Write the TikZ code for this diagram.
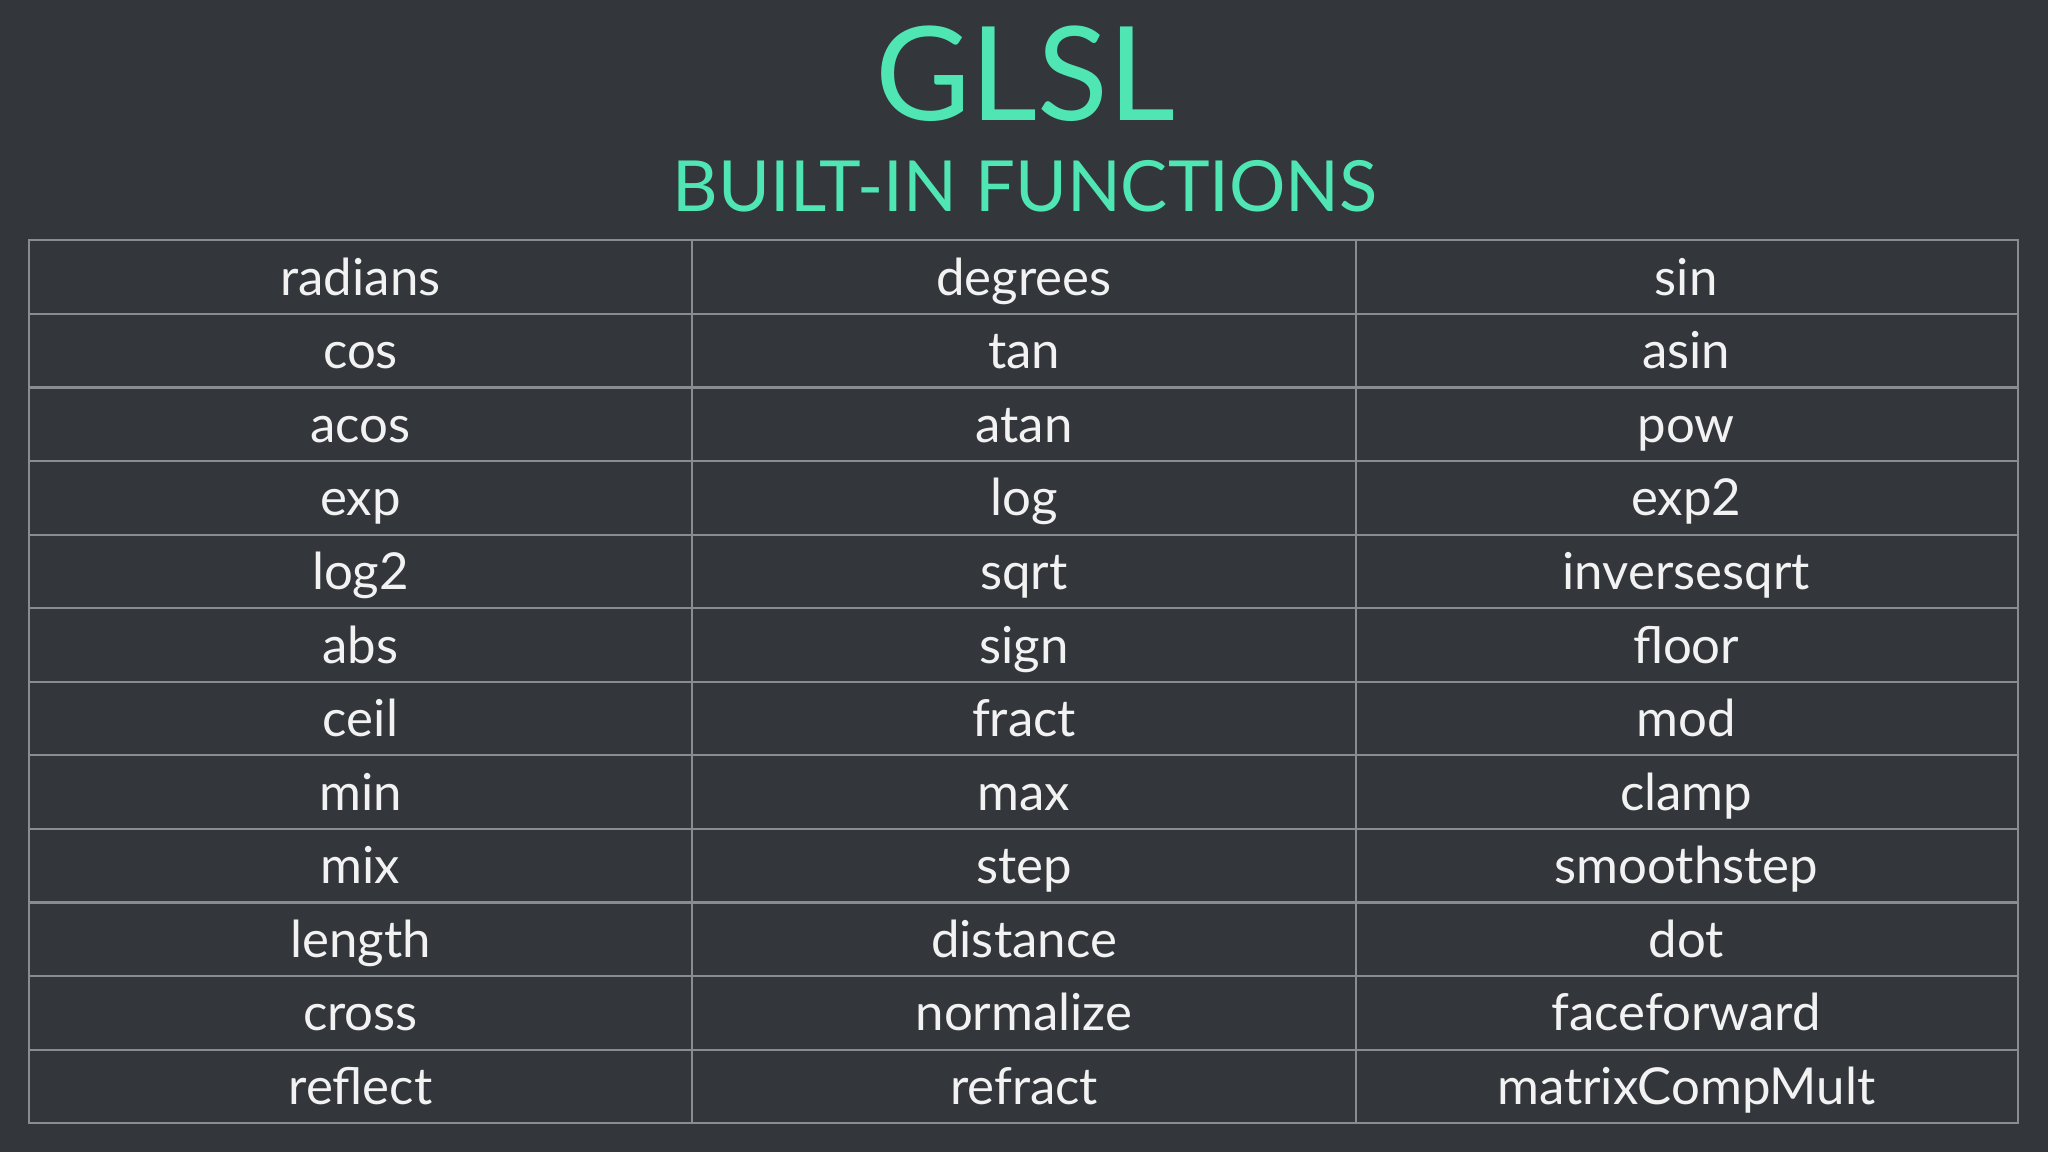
\documentclass[tikz,border=0pt]{standalone}
\usepackage{fontspec}
\setmainfont{Lato}
\definecolor{bg}{HTML}{33363B}
\definecolor{teal}{HTML}{4FE6B4}
\definecolor{grid}{HTML}{8A8C8F}
\definecolor{txt}{HTML}{F2F2F2}
\begin{document}
\begin{tikzpicture}[x=0.5pt,y=-0.5pt,
  cell/.style={text=txt,font=\fontsize{19.5}{22}\selectfont,anchor=base},
  ttl/.style={text=teal}]
\fill[bg] (0,0) rectangle (1568,882);
\useasboundingbox (0,0) rectangle (1568,882);
\node[ttl,font=\fontsize{50}{56}\selectfont,anchor=base] (title) at (785,92) {GLSL};
\node[ttl,font=\fontsize{27}{30}\selectfont,anchor=base] (sub) at (785,162) {BUILT-IN FUNCTIONS};
\draw[grid,line width=0.8pt] (22,184) rectangle (1545,860);
\foreach \i in {1,...,11} \draw[grid,line width=0.8pt] (22,{184+\i*56.33}) -- (1545,{184+\i*56.33});
\foreach \x in {530,1038} \draw[grid,line width=0.8pt] (\x,184) -- (\x,860);
\foreach [count=\r] \a/\b/\c in {radians/degrees/sin,cos/tan/asin,acos/atan/pow,exp/log/exp2,log2/sqrt/inversesqrt,abs/sign/floor,ceil/fract/mod,min/max/clamp,mix/step/smoothstep,length/distance/dot,cross/normalize/faceforward,reflect/refract/matrixCompMult}{
  \node[cell] (a\r) at (276,{184+(\r-1)*56.33+42}) {\a};
  \node[cell] (b\r) at (784,{184+(\r-1)*56.33+42}) {\b};
  \node[cell] (c\r) at (1291,{184+(\r-1)*56.33+42}) {\c};
}
\end{tikzpicture}
\end{document}
